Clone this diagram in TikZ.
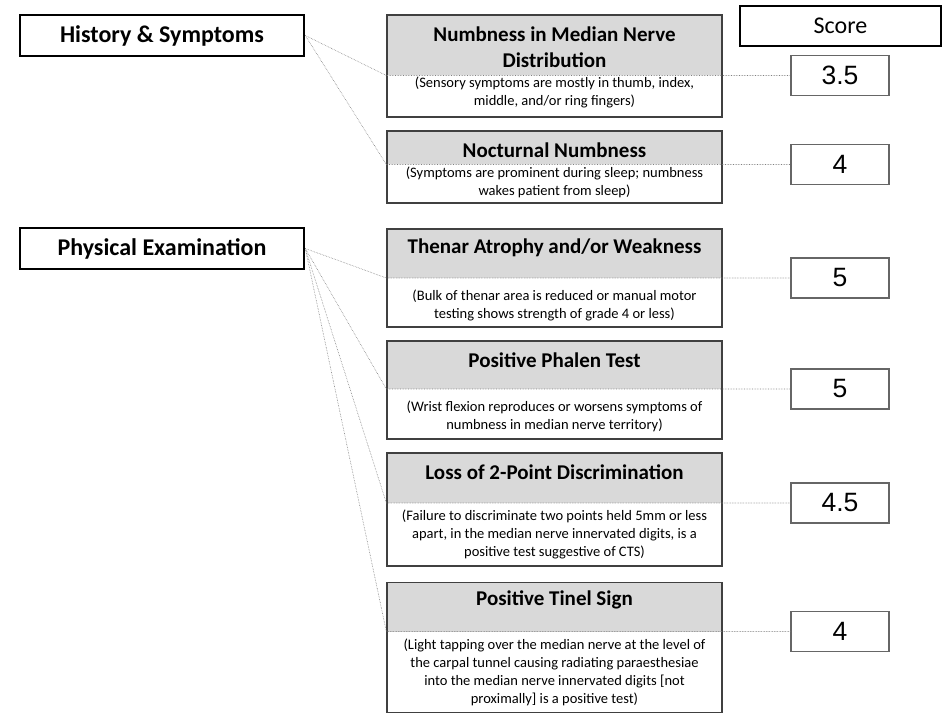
\documentclass[tikz,border=0pt]{standalone}
\usepackage{fontspec}
\setmainfont{Carlito}
\newfontfamily\arialf{Liberation Sans}
\usetikzlibrary{backgrounds}
\definecolor{hdrgray}{HTML}{D9D9D9}
\tikzset{
  catbox/.style={draw=black, line width=2.6pt, minimum width=284pt, minimum height=41pt, inner sep=0pt, font=\bfseries\fontsize{24}{29}\selectfont},
  headbox/.style={draw=black, line width=1.8pt, minimum width=201pt, minimum height=40pt, inner sep=0pt, font=\fontsize{24}{29}\selectfont},
  itembox/.style={draw=black!75, line width=1.3pt, minimum width=335pt, inner sep=0pt},
  scorebox/.style={draw=black!60, line width=1.3pt, minimum width=98pt, minimum height=40pt, inner sep=0pt, font=\arialf\fontsize{26.5}{30}\selectfont},
  conn/.style={draw=black!50, line width=0.6pt, densely dotted},
  ttl/.style={font=\bfseries\fontsize{21}{25.6}\selectfont, align=center, inner sep=0pt},
  dsc/.style={font=\fontsize{14.5}{18}\selectfont, align=center, inner sep=0pt},
}
\begin{document}
\begin{tikzpicture}[x=1pt,y=-1pt]
\useasboundingbox (0,0) rectangle (946,714);
% category boxes
\node[catbox] (hist) at (162,35.5) {History \& Symptoms};
\node[catbox] (phys) at (162,248.5) {Physical Examination};
\node[headbox] (score) at (840.5,26) {Score};
% item boxes
\node[itembox, minimum height=102pt] (m1) at (554.5,66) {};
\node[itembox, minimum height=72pt] (m2) at (554.5,167) {};
\node[itembox, minimum height=98pt] (m3) at (554.5,278) {};
\node[itembox, minimum height=98pt] (m4) at (554.5,390) {};
\node[itembox, minimum height=113pt] (m5) at (554.5,509.5) {};
\node[itembox, minimum height=130pt] (m6) at (554.5,647.5) {};
% score boxes
\node[scorebox] (s1) at (840,75.5) {3.5};
\node[scorebox] (s2) at (840,164.5) {4};
\node[scorebox] (s3) at (840,278) {5};
\node[scorebox] (s4) at (840,389) {5};
\node[scorebox] (s5) at (840,503) {4.5};
\node[scorebox] (s6) at (840,631.5) {4};
% gray header parts
\begin{scope}[on background layer]
\foreach \m/\s in {m1/s1,m2/s2,m3/s3,m4/s4,m5/s5,m6/s6}{
  \fill[hdrgray] (\m.north west) rectangle (\m.east |- \s.west);
}
\end{scope}
% titles
\node[ttl] (t1) at (554.5,47) {Numbness in Median Nerve\\Distribution};
\node[ttl] (t2) at (554.5,150) {Nocturnal Numbness};
\node[ttl] (t3) at (554.5,248) {Thenar Atrophy and/or Weakness};
\node[ttl] (t4) at (554.5,360) {Positive Phalen Test};
\node[ttl] (t5) at (554.5,472) {Loss of 2-Point Discrimination};
\node[ttl] (t6) at (554.5,600) {Positive Tinel Sign};
% descriptions
\node[dsc] (d1) at (554.5,92) {(Sensory symptoms are mostly in thumb, index,\\middle, and/or ring fingers)};
\node[dsc] (d2) at (554.5,182) {(Symptoms are prominent during sleep; numbness\\wakes patient from sleep)};
\node[dsc] (d3) at (554.5,305) {(Bulk of thenar area is reduced or manual motor\\testing shows strength of grade 4 or less)};
\node[dsc] (d4) at (554.5,416) {(Wrist flexion reproduces or worsens symptoms of\\numbness in median nerve territory)};
\node[dsc] (d5) at (554.5,534) {(Failure to discriminate two points held 5mm or less\\apart, in the median nerve innervated digits, is a\\positive test suggestive of CTS)};
\node[dsc] (d6) at (554.5,672) {(Light tapping over the median nerve at the level of\\the carpal tunnel causing radiating paraesthesiae\\into the median nerve innervated digits [not\\proximally] is a positive test)};
% connectors
\draw[conn] (hist.east) -- (m1.west |- s1.west) -- (s1.west);
\draw[conn] (hist.east) -- (m2.west |- s2.west) -- (s2.west);
\draw[conn] (phys.east) -- (m3.west |- s3.west) -- (s3.west);
\draw[conn] (phys.east) -- (m4.west |- s4.west) -- (s4.west);
\draw[conn] (phys.east) -- (m5.west |- s5.west) -- (s5.west);
\draw[conn] (phys.east) -- (m6.west |- s6.west) -- (s6.west);
\end{tikzpicture}
\end{document}
